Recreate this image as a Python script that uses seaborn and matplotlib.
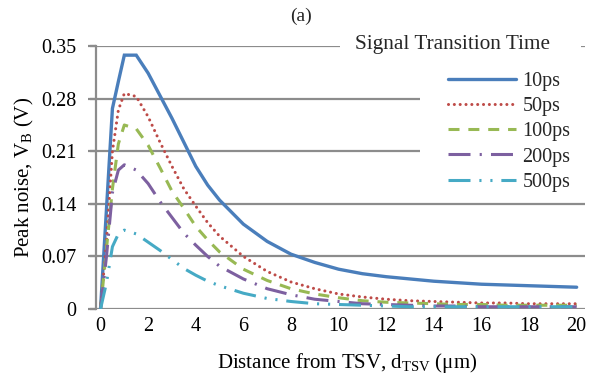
import numpy as np
import pandas as pd
import matplotlib
matplotlib.use("Agg")
import matplotlib.pyplot as plt
import seaborn as sns
from matplotlib.patches import Rectangle
from matplotlib.lines import Line2D

# ---------------- data ----------------
distance = [0, 0.25, 0.5, 0.75, 1, 1.5, 2, 2.5, 3, 3.5, 4, 4.5, 5, 6, 7, 8, 9,
            10, 11, 12, 13, 14, 15, 16, 17, 18, 19, 20]
noise_10ps = [0, 0.133, 0.267, 0.303, 0.338, 0.338, 0.314, 0.284, 0.254, 0.222,
              0.190, 0.165, 0.145, 0.113, 0.090, 0.073, 0.062, 0.053, 0.047,
              0.043, 0.040, 0.037, 0.035, 0.033, 0.032, 0.031, 0.030, 0.029]
noise_50ps = [0, 0.090, 0.210, 0.265, 0.287, 0.283, 0.256, 0.222, 0.190, 0.160,
              0.137, 0.115, 0.097, 0.070, 0.050, 0.036, 0.027, 0.020, 0.016,
              0.013, 0.011, 0.010, 0.009, 0.008, 0.008, 0.007, 0.007, 0.007]
noise_100ps = [0, 0.080, 0.160, 0.220, 0.245, 0.240, 0.218, 0.188, 0.157, 0.134,
               0.110, 0.092, 0.076, 0.053, 0.038, 0.027, 0.020, 0.015, 0.011,
               0.009, 0.008, 0.007, 0.006, 0.006, 0.005, 0.005, 0.005, 0.005]
noise_200ps = [0, 0.070, 0.155, 0.185, 0.192, 0.185, 0.167, 0.143, 0.122, 0.101,
               0.085, 0.070, 0.057, 0.040, 0.027, 0.019, 0.013, 0.010, 0.007,
               0.006, 0.005, 0.004, 0.004, 0.003, 0.003, 0.003, 0.003, 0.003]
noise_500ps = [0, 0.035, 0.083, 0.100, 0.105, 0.100, 0.089, 0.078, 0.066, 0.054,
               0.045, 0.037, 0.031, 0.021, 0.014, 0.010, 0.007, 0.006, 0.005,
               0.004, 0.003, 0.003, 0.003, 0.003, 0.003, 0.003, 0.003, 0.003]
series_labels = ["10ps", "50ps", "100ps", "200ps", "500ps"]
x_ticks = [0, 2, 4, 6, 8, 10, 12, 14, 16, 18, 20]
y_ticks = [0, 0.07, 0.14, 0.21, 0.28, 0.35]
y_tick_labels = ["0", "0.07", "0.14", "0.21", "0.28", "0.35"]

series_values = [noise_10ps, noise_50ps, noise_100ps, noise_200ps, noise_500ps]
df = pd.DataFrame({
    "distance": distance * len(series_labels),
    "noise": sum(series_values, []),
    "time": sum([[lab] * len(distance) for lab in series_labels], []),
})

# ---------------- style ----------------
sns.set_theme(style="white")
plt.rcParams["font.family"] = ["Liberation Serif", "DejaVu Serif"]
plt.rcParams["mathtext.fontset"] = "custom"
plt.rcParams["mathtext.rm"] = "Liberation Serif"
plt.rcParams["mathtext.it"] = "Liberation Serif:italic"

colors = {"10ps": "#4A7EBB", "50ps": "#BE4B48", "100ps": "#98B954",
          "200ps": "#7D60A0", "500ps": "#46AAC5"}
dashes = {"10ps": "", "50ps": (0.01, 1.9), "100ps": (3.6, 2.9),
          "200ps": (7.2, 3.0, 0.7, 3.0),
          "500ps": (7.2, 2.9, 0.7, 2.9, 0.7, 2.9)}
widths = {"10ps": 2.4, "50ps": 2.2, "100ps": 2.2, "200ps": 2.2, "500ps": 2.2}
grid_col = "#8C8C8C"

W, H = 603, 377
fig = plt.figure(figsize=(W / 100, H / 100), dpi=100)
L, R, T, B = 96, 585, 46, 309
ax = fig.add_axes([L / W, 1 - B / H, (R - L) / W, (B - T) / H])

sns.lineplot(data=df, x="distance", y="noise", hue="time", style="time",
             palette=colors, dashes=dashes, sort=False, estimator=None,
             hue_order=series_labels, style_order=series_labels,
             linewidth=2.2, legend=False, ax=ax)

for line, lab in zip(ax.lines, series_labels):
    line.set_linewidth(widths[lab])
    line.set_zorder(3)
    if lab == "50ps":
        line.set_dash_capstyle("round")
    else:
        line.set_dash_capstyle("butt")
    line.set_solid_joinstyle("miter")

ax.set_xlim(-0.19, 20.35)
ax.set_ylim(0, 0.3502)
ax.set_xticks(x_ticks)
ax.set_xticklabels([str(v) for v in x_ticks])
ax.set_yticks(y_ticks)
ax.set_yticklabels(y_tick_labels)

for s in ["top", "right", "bottom"]:
    ax.spines[s].set_visible(False)
ax.spines["left"].set_color(grid_col)
ax.spines["left"].set_linewidth(1.6)
ax.yaxis.grid(True, color=grid_col, linewidth=1.6)
ax.set_axisbelow(True)
ax.tick_params(axis="y", length=6, width=1.6, color=grid_col, pad=8,
               labelsize=14.5, left=True)
ax.tick_params(axis="x", length=0, pad=6, labelsize=14.5)
for lbl in ax.get_xticklabels() + ax.get_yticklabels():
    lbl.set_color("black")

# extend gridlines to the left like the tick marks
for yv in y_ticks:
    ax.plot([-0.19 - 6 / 23.8, -0.19], [yv, yv], color=grid_col, lw=1.6,
            clip_on=False, zorder=1, solid_capstyle="butt")

ax.set_xlabel("Distance from TSV, d$_\\mathregular{TSV}$ (μm)", fontsize=15,
              color="black")
ax.xaxis.set_label_coords((347 - L) / (R - L), -(363 - B) / (B - T))
ax.xaxis.label.set_va("center")
ax.set_ylabel("Peak noise, V$_\\mathregular{B}$ (V)", fontsize=15,
              labelpad=4, color="black")

# white boxes behind legend and its title (cover gridlines)
ax.add_patch(Rectangle(((420 - L) / (R - L), (B - 190) / (B - T)),
                       (R + 2 - 420) / (R - L), (190 - 62) / (B - T),
                       transform=ax.transAxes, facecolor="white",
                       edgecolor="none", zorder=1, clip_on=False))
ax.add_patch(Rectangle(((340 - L) / (R - L), (B - 62) / (B - T)),
                       (R - 4 - 340) / (R - L), (62 - 28) / (B - T),
                       transform=ax.transAxes, facecolor="white",
                       edgecolor="none", zorder=1, clip_on=False))

fig.text(355 / W, 1 - 45 / H, "Signal Transition Time", fontsize=15.3,
         ha="left", va="center")

handles = []
for lab in series_labels:
    h = Line2D([], [], color=colors[lab], linewidth=widths[lab])
    if dashes[lab]:
        h.set_dashes(dashes[lab])
    h.set_dash_capstyle("round" if lab == "50ps" else "butt")
    handles.append(h)
leg = fig.legend(handles, series_labels, loc="upper left",
                 bbox_to_anchor=(448 / W, 1 - 72 / H), frameon=False,
                 fontsize=14.5, handlelength=3.4, handletextpad=0.3,
                 labelspacing=0.3, borderpad=0, borderaxespad=0)

fig.text(301 / W, 1 - 16 / H, "(a)", fontsize=14, ha="center", va="center")

fig.savefig("out.png", dpi=100)
